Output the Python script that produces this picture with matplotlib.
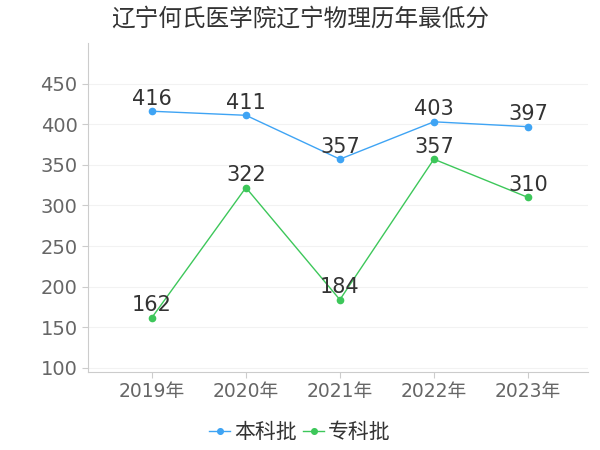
import matplotlib.pyplot as plt

plt.rcParams['font.family'] = ['DejaVu Sans', 'Noto Sans CJK SC']

years = ["2019年", "2020年", "2021年", "2022年", "2023年"]
benke = [416, 411, 357, 403, 397]
zhuanke = [162, 322, 184, 357, 310]

fig = plt.figure(figsize=(6, 4.5), dpi=100)
ax = fig.add_axes([88/600, 78/450, 500/600, 329/450])

x = range(len(years))
ax.plot(x, benke, color="#3fa4f4", lw=1, marker="o", ms=4.5, label="本科批")
ax.plot(x, zhuanke, color="#3dc75a", lw=1, marker="o", ms=4.5, label="专科批")

for i, v in enumerate(benke):
    ax.text(i, v + 3, str(v), ha="center", va="bottom", fontsize=15, color="#333333")
for i, v in enumerate(zhuanke):
    ax.text(i, v + 3, str(v), ha="center", va="bottom", fontsize=15, color="#333333")

ax.set_xlim(-0.68, 4.64)
ax.set_ylim(95, 500)
ax.set_yticks(range(100, 451, 50))
ax.set_xticks(list(x))
ax.set_xticklabels(years)
ax.tick_params(axis="y", labelsize=14, colors="#666666", length=4, color="#cccccc")
ax.tick_params(axis="x", labelsize=13.5, colors="#666666", length=4, color="#cccccc")
ax.grid(axis="y", color="#f2f2f2", lw=0.8)
for s in ["top", "right"]:
    ax.spines[s].set_visible(False)
for s in ["left", "bottom"]:
    ax.spines[s].set_color("#cccccc")

fig.text(0.5, 0.958, "辽宁何氏医学院辽宁物理历年最低分", ha="center", va="center",
         fontsize=17, color="#333333")
fig.legend(loc="center", bbox_to_anchor=(0.5, 0.04), ncol=2, frameon=False,
           fontsize=15, handlelength=1.0, handletextpad=0.2, columnspacing=0.3,
           markerscale=0.9, labelcolor="#333333")

fig.savefig("out.png")
